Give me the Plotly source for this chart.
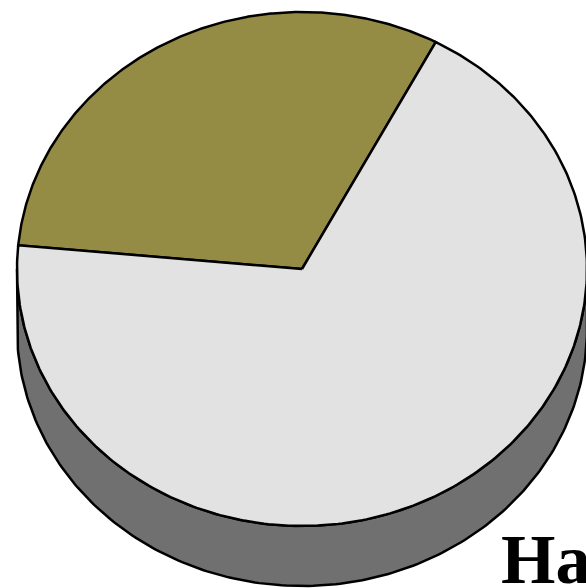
import numpy as np
import plotly.graph_objects as go

# ---- data ----
labels = ["Segment A", "Segment B"]
values = [31.3, 68.7]
colors = ["#948c44", "#e2e2e2"]
side_color = "#707070"
title_text = "Ha"

# ---- geometry (pixel space) ----
start_angle = 275.3   # degrees clockwise from top
cx, cy, rx, ry, depth = 302, 269, 285, 257, 60
W, H = 586, 588


def ell(theta_deg, dy=0.0):
    t = np.radians(theta_deg)
    return cx + rx * np.sin(t), cy - ry * np.cos(t) + dy


fig = go.Figure()

# side (front half of the cylinder wall)
th = np.linspace(90, 270, 200)
x1, y1 = ell(th)
x2, y2 = ell(th[::-1], depth)
fig.add_trace(go.Scatter(
    x=np.concatenate([x1, x2, x1[:1]]), y=np.concatenate([y1, y2, y1[:1]]),
    mode="lines", fill="toself", fillcolor=side_color,
    line=dict(color="black", width=2.5), hoverinfo="skip"))

# top face slices
total = sum(values)
a0 = start_angle
for lab, v, c in zip(labels, values, colors):
    a1 = a0 + 360.0 * v / total
    th = np.linspace(a0, a1, 300)
    ex, ey = ell(th)
    xs = np.concatenate([[cx], ex, [cx]])
    ys = np.concatenate([[cy], ey, [cy]])
    fig.add_trace(go.Scatter(
        x=xs, y=ys, mode="lines", fill="toself", fillcolor=c, name=lab,
        line=dict(color="black", width=2.5), hoverinfo="name"))
    a0 = a1

fig.add_annotation(
    x=499, y=519, xref="x", yref="y", text="<b>%s</b>" % title_text,
    showarrow=False, xanchor="left", yanchor="top",
    font=dict(family="Liberation Serif", size=70, color="black"))

fig.update_layout(
    width=W, height=H, margin=dict(l=0, r=0, t=0, b=0),
    paper_bgcolor="white", plot_bgcolor="white", showlegend=False,
    xaxis=dict(range=[0, W], visible=False, fixedrange=True),
    yaxis=dict(range=[H, 0], visible=False, fixedrange=True),
)

fig.write_html(
    "out.html",
    config={"displayModeBar": False, "staticPlot": True},
    post_script="document.body.style.margin='0';document.body.style.overflow='hidden';",
)
